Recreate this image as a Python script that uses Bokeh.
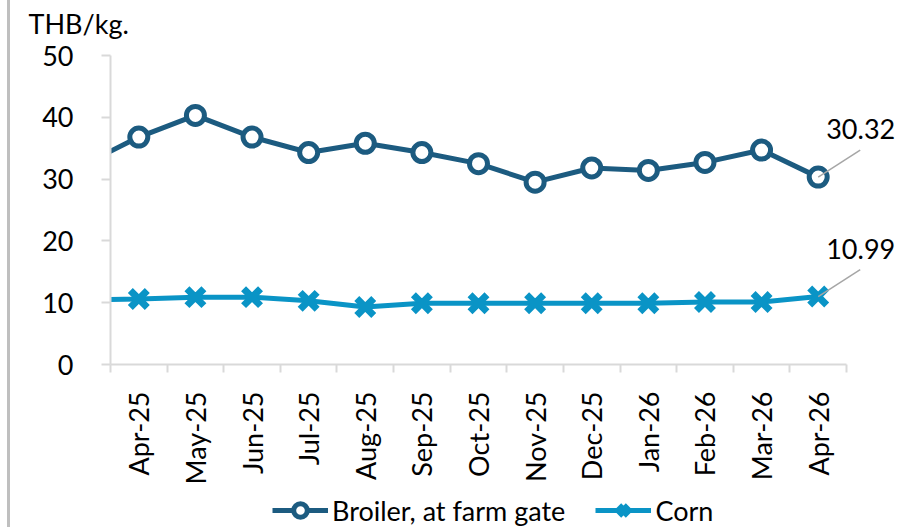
import math
from bokeh.plotting import figure
from bokeh.layouts import column
from bokeh.models import Range1d, FixedTicker, Legend, LegendItem, Label, Arrow
from bokeh.embed import file_html
from bokeh.resources import INLINE

# ---- data ----
prev_month = "Mar-25"          # month before the window (only its connecting segment is visible)
broiler_prev = 32.2
corn_prev = 10.4
months = ["Apr-25", "May-25", "Jun-25", "Jul-25", "Aug-25", "Sep-25", "Oct-25",
          "Nov-25", "Dec-25", "Jan-26", "Feb-26", "Mar-26", "Apr-26"]
broiler = [36.8, 40.3, 36.8, 34.3, 35.8, 34.3, 32.5, 29.5, 31.8, 31.4, 32.7, 34.7, 30.32]
corn = [10.6, 10.9, 10.9, 10.3, 9.3, 9.9, 9.9, 9.9, 9.9, 9.9, 10.1, 10.1, 10.99]
y_ticks = [0, 10, 20, 30, 40, 50]
unit_label = "THB/kg."
series_names = ["Broiler, at farm gate", "Corn"]

DARK = "#1c5b80"
CYAN = "#0a94c6"
FONT = "Lato"
FS = "27px"

LIFT = 12                         # canvas starts this many px above the page top
W, H = 893, 493 + LIFT
LH = 34
ML, MR, MT, MB = 100, 3, 55 + LIFT, 129
axis_w = 736                      # pixel length of the category axis
frame_w = W - ML - MR
frame_h = H - MT - MB

n = len(months)
x_lo = -0.5
px_x = axis_w / n
x_hi = x_lo + frame_w / px_x
y_lo, y_hi = y_ticks[0], y_ticks[-1]
px_y = frame_h / (y_hi - y_lo)

p = figure(width=W, height=H, output_backend="svg", toolbar_location=None,
           x_range=Range1d(x_lo, x_hi), y_range=Range1d(y_lo, y_hi),
           min_border_left=ML, min_border_right=MR, min_border_top=MT, min_border_bottom=MB,
           title=unit_label)
p.outline_line_color = None
p.xgrid.visible = False
p.ygrid.visible = False
p.styles = {"border-left": "3px solid #bfbfbf", "margin-left": "7px",
            "margin-top": f"-{LIFT}px"}

p.title.text_font = FONT
p.title.text_font_size = FS
p.title.text_font_style = "normal"
p.title.text_color = "black"
p.title.align = "left"
p.title.offset = -82
p.title.standoff = 20 + LIFT

xs = list(range(-1, n))
b_vals = [broiler_prev] + broiler
c_vals = [corn_prev] + corn

bl = p.line(xs, b_vals, line_width=5, line_color=DARK)
bs = p.scatter(xs, b_vals, marker="circle", size=18, line_width=5,
               line_color=DARK, fill_color="white")
cl = p.line(xs, c_vals, line_width=5, line_color=CYAN)
cs = p.scatter(xs, c_vals, marker="x", size=24, line_width=7, line_color=CYAN)

# axes
ax = p.xaxis[0]
ax.bounds = (x_lo, x_lo + n)
ax.ticker = FixedTicker(ticks=list(range(n)), minor_ticks=[i - 0.5 for i in range(n + 1)])
ax.major_label_overrides = {i: m for i, m in enumerate(months)}
ax.major_label_orientation = math.pi / 2
ax.major_tick_line_color = None
ax.major_tick_out = 0
ax.major_tick_in = 0
ax.minor_tick_out = 8
ax.minor_tick_in = 0
ax.minor_tick_line_color = "#d9d9d9"
ax.minor_tick_line_width = 2
ax.axis_line_color = "#d9d9d9"
ax.axis_line_width = 2
ax.major_label_standoff = 19
ax.major_label_text_font = FONT
ax.major_label_text_font_size = FS
ax.major_label_text_color = "black"

ay = p.yaxis[0]
ay.ticker = FixedTicker(ticks=y_ticks, minor_ticks=[])
ay.major_tick_out = 9
ay.major_tick_in = 0
ay.major_tick_line_color = "#d9d9d9"
ay.major_tick_line_width = 2
ay.axis_line_color = "#d9d9d9"
ay.axis_line_width = 2
ay.minor_tick_line_color = None
ay.major_label_standoff = 28
ay.major_label_text_font = FONT
ay.major_label_text_font_size = FS
ay.major_label_text_color = "black"

# end-value labels with leader lines
for vals in (broiler, corn):
    v = vals[-1]
    xi = n - 1
    p.add_layout(Arrow(end=None, x_start=xi, y_start=v,
                       x_end=xi + 42 / px_x, y_end=v + 27 / px_y,
                       line_color="#a6a6a6", line_width=1.5))
    p.add_layout(Label(x=xi, y=v, x_offset=8, y_offset=48, text=f"{v:.2f}",
                       text_font=FONT, text_font_size=FS, text_color="black",
                       text_baseline="alphabetic"))

# legend strip (same series styles; the strip's ranges keep the data out of view)
q = figure(width=W, height=LH, output_backend="svg", toolbar_location=None,
           x_axis_type=None, y_axis_type=None, min_border=0,
           x_range=Range1d(100, 101), y_range=Range1d(100, 101))
q.outline_line_color = None
q.xgrid.visible = False
q.ygrid.visible = False
q.styles = {"border-left": "3px solid #bfbfbf", "margin-left": "7px"}
lb = q.line(xs, b_vals, line_width=5, line_color=DARK)
lbs = q.scatter(xs, b_vals, marker="circle", size=18, line_width=5, line_color=DARK, fill_color="white")
lc = q.line(xs, c_vals, line_width=5, line_color=CYAN)
lcs = q.scatter(xs, c_vals, marker="x", size=24, line_width=7, line_color=CYAN)
legend = Legend(items=[LegendItem(label=series_names[0], renderers=[lb, lbs]),
                       LegendItem(label=series_names[1], renderers=[lc, lcs])],
                orientation="horizontal", location=(162, 0),
                glyph_width=56, glyph_height=LH, label_standoff=4, spacing=30,
                padding=0, margin=0, border_line_color=None, background_fill_alpha=0,
                label_text_font=FONT, label_text_font_size=FS, label_text_color="black")
q.add_layout(legend)

layout = column(p, q, spacing=0)
open("out.html", "w").write(file_html(layout, INLINE))
